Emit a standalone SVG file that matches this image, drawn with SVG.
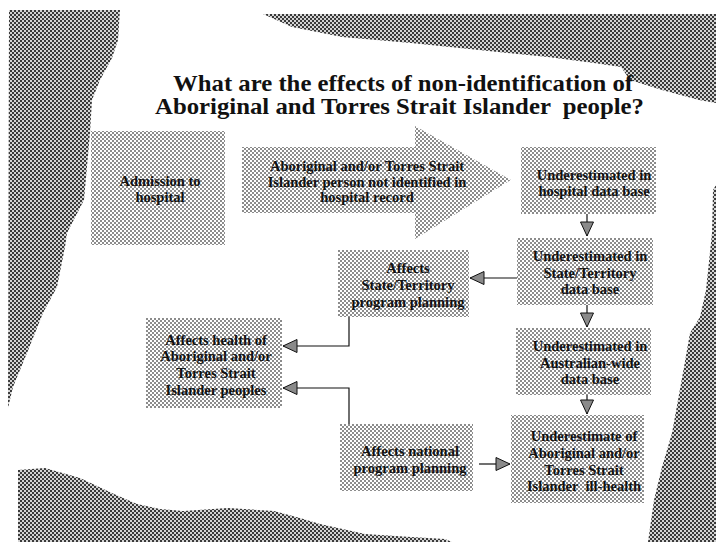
<svg xmlns="http://www.w3.org/2000/svg" width="716" height="542" viewBox="0 0 716 542">
<style>
.t{font-family:"Liberation Serif","Times New Roman",serif;font-size:14.5px;font-weight:bold;fill:#111;text-anchor:middle}
.title{font-family:"Liberation Serif","Times New Roman",serif;font-size:23px;font-weight:bold;fill:#111}
.box{fill:url(#boxdots)}
.blob{fill:url(#blobdots)}
.c{fill:none;stroke:#111;stroke-width:1.2;marker-end:url(#ah)}
</style>
<defs>
<pattern id="boxdots" width="4" height="4" patternUnits="userSpaceOnUse">
<rect width="4" height="4" fill="#fff"/>
<rect x="0" y="0" width="2" height="2" fill="#8c8c8c"/>
<rect x="2" y="2" width="2" height="2" fill="#8c8c8c"/>
</pattern>
<pattern id="blobdots" width="4" height="4" patternUnits="userSpaceOnUse">
<rect width="4" height="4" fill="#d4d4d4"/>
<rect x="0" y="0" width="2" height="2" fill="#3a3a3a"/>
<rect x="2" y="2" width="2" height="2" fill="#3a3a3a"/>
</pattern>
<marker id="ah" markerUnits="userSpaceOnUse" markerWidth="18" markerHeight="16" refX="15" refY="8" orient="auto">
<path d="M1,1.5 L15,8 L1,14.5 Z" fill="#8a8a8a" stroke="#111" stroke-width="1"/>
</marker>
</defs>
<rect width="716" height="542" fill="#fff"/>
<g id="background">
<path class="blob" d="M9,10 L120,10 L118,40 L112,58 L100,80 L92,100 L90,133 L84,200 L67,233 L65,247 L57,287 L43,313 L27,353 L13,387 L8,408 Z"/>
<path class="blob" d="M263,14 L716,14 L716,103 L699,100 L662,90 L630,80 L621,67 L594,63 L548,57 L479,50 L411,43 L342,37 L292,27 Z"/>
<path class="blob" d="M716,185 L713,190 L712,233 L706,290 L700,317 L690,333 L684,367 L678,400 L672,433 L662,467 L654,500 L648,542 L716,542 Z"/>
<path class="blob" d="M18,470 L45,468 L80,478 L114,494 L137,504 L160,509 L183,511 L228,508 L274,511 L300,518 L320,524 L365,534 L411,537 L445,539 L452,542 L18,542 Z"/>
</g>
<g id="title">
<text class="title" x="173" y="91" textLength="460" lengthAdjust="spacingAndGlyphs">What are the effects of non-identification of</text>
<text class="title" x="155" y="114" textLength="489" lengthAdjust="spacingAndGlyphs" xml:space="preserve">Aboriginal and Torres Strait Islander  people?</text>
</g>
<g id="admission">
<rect class="box" x="91" y="131" width="134" height="114"/>
<text class="t" x="160" y="186">Admission to</text>
<text class="t" x="160" y="202">hospital</text>
</g>
<g id="not-identified">
<polygon class="box" points="242,147 415,147 415,126 511,180 415,239 415,213 242,213"/>
<text class="t" x="367" y="171">Aboriginal and/or Torres Strait</text>
<text class="t" x="367" y="187">Islander person not identified in</text>
<text class="t" x="367" y="202">hospital record</text>
</g>
<g id="hospital-db">
<rect class="box" x="521" y="147" width="135" height="67"/>
<text class="t" x="594" y="180">Underestimated in</text>
<text class="t" x="594" y="196">hospital data base</text>
</g>
<g id="state-db">
<rect class="box" x="517" y="238" width="136" height="67"/>
<text class="t" x="590" y="261">Underestimated in</text>
<text class="t" x="590" y="278">State/Territory</text>
<text class="t" x="590" y="294">data base</text>
</g>
<g id="australia-db">
<rect class="box" x="516" y="328" width="135" height="67"/>
<text class="t" x="590" y="351">Underestimated in</text>
<text class="t" x="590" y="368">Australian-wide</text>
<text class="t" x="590" y="384">data base</text>
</g>
<g id="ill-health">
<rect class="box" x="511" y="415" width="133" height="88"/>
<text class="t" x="584" y="441">Underestimate of</text>
<text class="t" x="584" y="458">Aboriginal and/or</text>
<text class="t" x="584" y="475">Torres Strait</text>
<text class="t" x="584" y="491" xml:space="preserve">Islander  ill-health</text>
</g>
<g id="state-planning">
<rect class="box" x="338" y="250" width="131" height="67"/>
<text class="t" x="408" y="273">Affects</text>
<text class="t" x="408" y="290">State/Territory</text>
<text class="t" x="408" y="307">program planning</text>
</g>
<g id="health-effect">
<rect class="box" x="146" y="318" width="136" height="90"/>
<text class="t" x="216" y="345">Affects health of</text>
<text class="t" x="216" y="361">Aboriginal and/or</text>
<text class="t" x="216" y="378">Torres Strait</text>
<text class="t" x="216" y="395">Islander peoples</text>
</g>
<g id="national-planning">
<rect class="box" x="340" y="424" width="133" height="67"/>
<text class="t" x="410" y="456">Affects national</text>
<text class="t" x="410" y="473">program planning</text>
</g>
<g id="connectors">
<path class="c" d="M587,214 L587,236"/>
<path class="c" d="M587,305 L587,327"/>
<path class="c" d="M587,395 L587,414"/>
<path class="c" d="M517,278 L470,278"/>
<path class="c" d="M349,317 L349,346 L283,346"/>
<path class="c" d="M349,424 L349,388 L283,388"/>
<path class="c" d="M479,464 L510,464"/>
</g>
</svg>
